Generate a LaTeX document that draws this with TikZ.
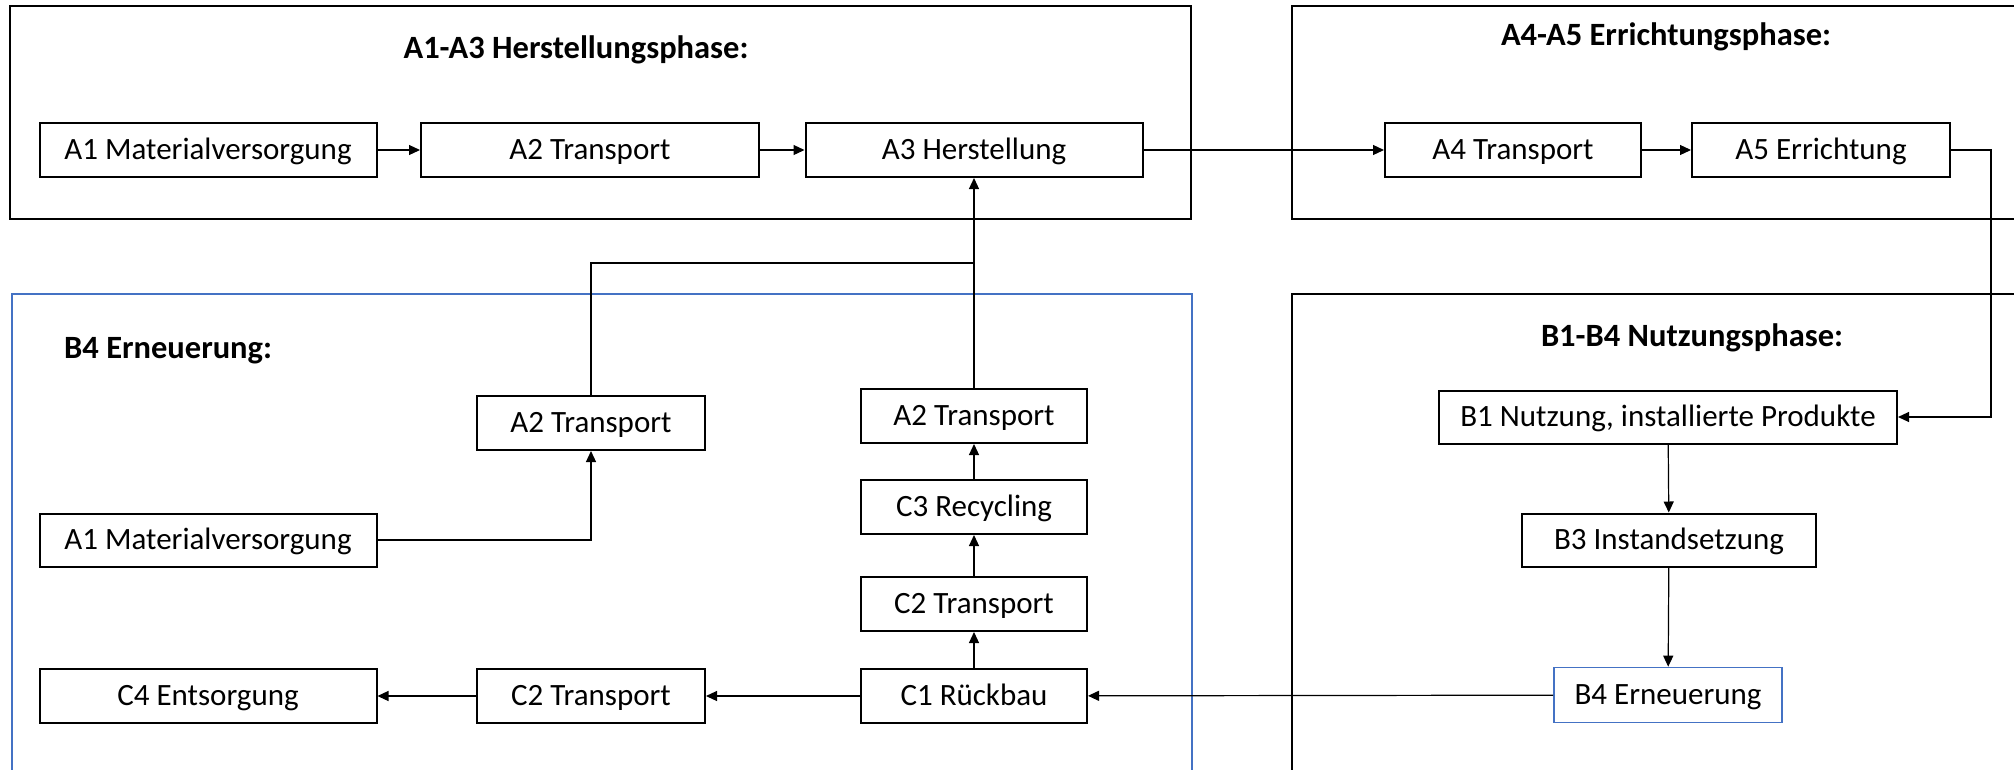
\documentclass[tikz,border=0pt]{standalone}
\usepackage{fontspec}
\setmainfont{Carlito}
\usetikzlibrary{arrows.meta}
\definecolor{officeblue}{HTML}{4472C4}
\begin{document}
\begin{tikzpicture}[x=1pt,y=-1pt,
  box/.style={draw=black, line width=2pt, inner sep=0pt, minimum height=54pt,
    font=\fontsize{31}{36}\selectfont, text height=23.25pt, text depth=3.3pt},
  bluebox/.style={box, draw=officeblue, line width=1.6pt},
  frame/.style={draw=black, line width=2pt},
  blueframe/.style={draw=officeblue, line width=2pt},
  heading/.style={font=\fontsize{32.5}{38}\selectfont\bfseries, inner sep=0pt,
    text height=24.4pt, text depth=3.5pt},
  link/.style={draw=black, line width=1.2pt},
  flow/.style={link, -{Triangle[length=11pt,width=10pt]}}]
\useasboundingbox (0,0) rectangle (2014,769);
\fill[white] (0,0) rectangle (2014,769);

% phase frames
\draw[frame] (10,6) rectangle (1191,219);
\draw[frame] (2016,6) -- (1292,6) -- (1292,219) -- (2016,219);
\draw[blueframe] (12,772) -- (12,294) -- (1192,294) -- (1192,772);
\draw[frame] (1292,772) -- (1292,294) -- (2016,294);

% headings
\node[heading] (h1) at (576,48) {A1-A3 Herstellungsphase:};
\node[heading] (h2) at (1666,35) {A4-A5 Errichtungsphase:};
\node[heading, anchor=west] (h3) at (64,348) {B4 Erneuerung:};
\node[heading] (h4) at (1692,336) {B1-B4 Nutzungsphase:};

% production and construction
\node[box, minimum width=337pt] (a1) at (208,150) {A1 Materialversorgung};
\node[box, minimum width=338pt] (a2) at (590,150) {A2 Transport};
\node[box, minimum width=337pt] (a3) at (974,150) {A3 Herstellung};
\node[box, minimum width=256pt] (a4) at (1513,150) {A4 Transport};
\node[box, minimum width=258pt] (a5) at (1821,150) {A5 Errichtung};

% use phase
\node[box, minimum width=458pt, minimum height=53pt] (b1) at (1668,417) {B1 Nutzung, installierte Produkte};
\node[box, minimum width=294pt, minimum height=53pt] (b3) at (1669,540) {B3 Instandsetzung};
\node[bluebox, minimum width=228pt, minimum height=55pt] (b4) at (1668,695) {B4 Erneuerung};

% renewal
\node[box, minimum width=228pt] (ta2) at (591,423) {A2 Transport};
\node[box, minimum width=337pt, minimum height=53pt] (ma1) at (208,540) {A1 Materialversorgung};
\node[box, minimum width=226pt] (ra2) at (974,416) {A2 Transport};
\node[box, minimum width=226pt] (rc3) at (974,507) {C3 Recycling};
\node[box, minimum width=226pt] (rc2) at (974,604) {C2 Transport};
\node[box, minimum width=226pt] (c1) at (974,696) {C1 Rückbau};
\node[box, minimum width=228pt] (lc2) at (591,696) {C2 Transport};
\node[box, minimum width=337pt] (c4) at (208,696) {C4 Entsorgung};

\coordinate (join) at (974,263);
\coordinate (bend) at (1991,150);

% connectors
\draw[flow] (a1) -- (a2);
\draw[flow] (a2) -- (a3);
\draw[flow] (a3) -- (a4);
\draw[flow] (a4) -- (a5);
\draw[flow] (a5.east) -- (bend) |- (b1.east);
\draw[flow] (b1) -- (b3);
\draw[flow] (b3) -- (b4);
\draw[flow] (b4) -- (c1);
\draw[flow] (c1) -- (lc2);
\draw[flow] (lc2) -- (c4);
\draw[flow] (c1) -- (rc2);
\draw[flow] (rc2) -- (rc3);
\draw[flow] (rc3) -- (ra2);
\draw[flow] (ra2) -- (a3);
\draw[link] (ta2.north) |- (join);
\draw[flow] (ma1.east) -| (ta2.south);
\end{tikzpicture}
\end{document}
